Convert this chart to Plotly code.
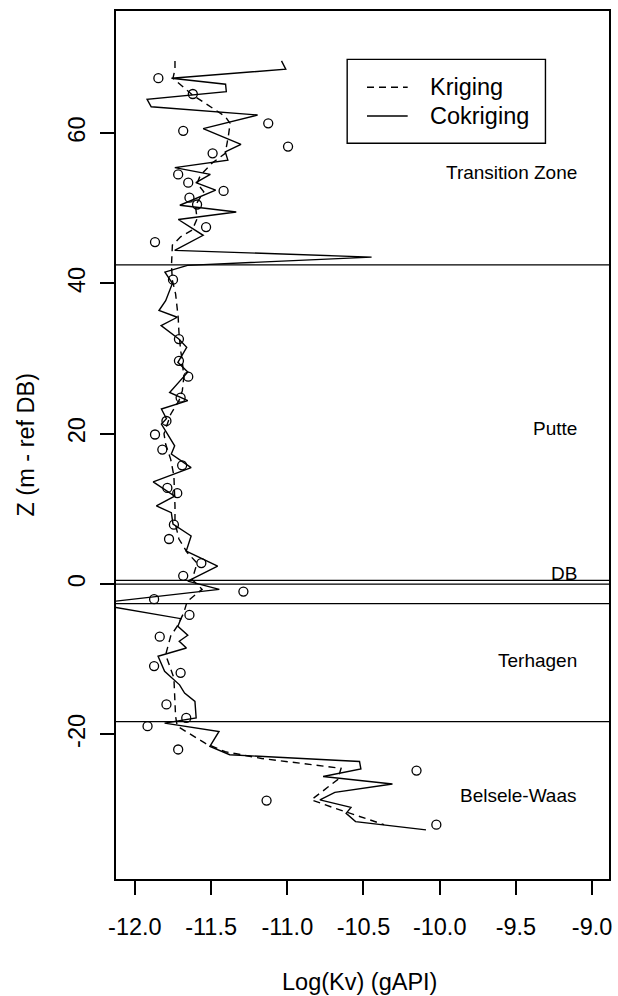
import plotly.graph_objects as go

# ---------------- data ----------------
# Cokriging estimate (solid line): depth Z and Log(Kv)
cok_z = [69.6, 68.5, 67.3, 66.5, 65.5, 64.5, 63.5, 62.4, 60.6, 58.5, 57.5, 56.4,
         55.4, 54.5, 53.4, 52.4, 50.4, 49.5, 48.5, 46.4, 44.4, 43.5, 42.4, 41.5,
         40.0, 37.7, 36.4, 35.5, 34.4, 32.6, 31.5, 29.5, 28.2, 25.5, 24.4, 23.3,
         22.0, 21.3, 18.4, 17.3, 15.5, 13.6, 11.7, 10.4, 9.5, 8.0, 6.4, 4.4,
         2.4, 0.4, -0.7, -2.6, -4.6, -5.6, -6.8, -7.6, -8.5, -9.6, -11.6, -13.4,
         -14.5, -15.6, -17.8, -18.5, -19.6, -21.6, -22.7, -23.6, -24.6, -25.6, -26.6, -27.7,
         -28.7, -29.7, -30.5, -31.6, -32.7]
cok_v = [-11.038, -11.010, -11.760, -11.405, -11.400, -11.920, -11.893, -11.195, -11.552, -11.304, -11.407, -11.390,
         -11.738, -11.505, -11.600, -11.470, -11.705, -11.335, -11.715, -11.552, -11.739, -10.447, -11.655, -11.803,
         -11.754, -11.798, -11.842, -11.722, -11.828, -11.712, -11.660, -11.718, -11.653, -11.772, -11.653, -11.826,
         -11.793, -11.826, -11.739, -11.761, -11.631, -11.880, -11.739, -11.859, -11.761, -11.750, -11.631, -11.663,
         -11.457, -11.653, -11.446, -12.270, -11.698, -11.718, -11.653, -11.709, -11.662, -11.848, -11.805, -11.707,
         -11.674, -11.606, -11.598, -11.805, -11.448, -11.508, -11.378, -10.526, -10.517, -10.765, -10.310, -10.688,
         -10.786, -10.582, -10.614, -10.552, -10.090]

# Kriging estimate (dashed line)
kri_z = [69.6, 68.5, 67.3, 65.1, 62.2, 61.3, 59.7, 57.3, 56.0, 54.4, 53.3, 52.2,
         50.4, 48.6, 47.1, 46.2, 45.1, 43.7, 42.4, 40.4, 38.6, 35.5, 33.5, 31.1,
         29.7, 27.5, 25.7, 24.4, 22.6, 20.0, 18.6, 16.6, 14.4, 10.4, 8.2, 6.0,
         4.2, 2.8, 0.6, -0.7, -2.3, -3.8, -5.6, -6.9, -9.4, -12.5, -17.6, -18.9,
         -21.2, -22.3, -23.2, -24.5, -26.0, -28.7, -29.8, -32.0]
kri_v = [-11.737, -11.737, -11.750, -11.624, -11.407, -11.375, -11.386, -11.407, -11.494, -11.570, -11.592, -11.548,
         -11.603, -11.592, -11.624, -11.700, -11.754, -11.759, -11.760, -11.754, -11.733, -11.716, -11.711, -11.700,
         -11.689, -11.679, -11.689, -11.711, -11.765, -11.809, -11.798, -11.765, -11.744, -11.737, -11.737, -11.711,
         -11.657, -11.592, -11.624, -11.559, -11.657, -11.679, -11.722, -11.765, -11.798, -11.744, -11.733, -11.722,
         -11.537, -11.407, -11.168, -10.647, -10.669, -10.842, -10.690, -10.365]

# Observed data (open circles)
obs_z = [67.3, 65.2, 61.3, 60.3, 58.2, 57.3, 54.5, 53.4, 52.3, 51.4, 50.5, 47.5,
         45.5, 40.5, 32.6, 29.7, 27.6, 24.8, 21.7, 19.9, 17.9, 15.8, 12.8, 12.1,
         7.9, 6.0, 2.8, 1.1, -1.0, -2.0, -4.1, -7.0, -10.9, -11.8, -16.0, -17.8,
         -18.9, -22.0, -24.8, -28.8, -32.0]
obs_v = [-11.846, -11.620, -11.125, -11.683, -10.995, -11.490, -11.716, -11.650, -11.418, -11.642, -11.592, -11.533,
         -11.868, -11.750, -11.711, -11.711, -11.650, -11.700, -11.793, -11.868, -11.820, -11.690, -11.787, -11.722,
         -11.744, -11.776, -11.564, -11.683, -11.288, -11.874, -11.642, -11.837, -11.874, -11.700, -11.793, -11.663,
         -11.917, -11.716, -10.152, -11.136, -10.022]

# Layer boundaries and labels
boundary_z = [42.46, 0.5, 0.0, -2.6, -18.3]
layer_names = ["Transition Zone", "Putte", "DB", "Terhagen", "Belsele-Waas"]
layer_label_z = [54.8, 20.7, 1.35, -10.1, -28.1]
layer_label_v = -9.088

series_names = ["Kriging", "Cokriging"]

x_ticks = [-12.0, -11.5, -11.0, -10.5, -10.0, -9.5, -9.0]
x_ticktext = ["-12.0", "-11.5", "-11.0", "-10.5", "-10.0", "-9.5", "-9.0"]
y_ticks = [-20, 0, 20, 40, 60]
y_ticktext = ["-20", "0", "20", "40", "60"]

x_title = "Log(Kv) (gAPI)"
y_title = "Z (m - ref DB)"

FONT = "Liberation Sans, Arial, sans-serif"
BASE = 23.5
LW = 1.4

fig = go.Figure()
fig.add_trace(go.Scatter(x=kri_v, y=kri_z, mode="lines", name=series_names[0],
                         line=dict(color="black", width=LW, dash="7px,5px"),
                         showlegend=False))
fig.add_trace(go.Scatter(x=cok_v, y=cok_z, mode="lines", name=series_names[1],
                         line=dict(color="black", width=LW),
                         showlegend=False))
fig.add_trace(go.Scatter(x=obs_v, y=obs_z, mode="markers", name="Data",
                         marker=dict(symbol="circle-open", size=9, color="black",
                                     line=dict(width=1.3)),
                         showlegend=False))

shapes = []
for bz in boundary_z:
    shapes.append(dict(type="line", xref="paper", yref="y", x0=0, x1=1, y0=bz, y1=bz,
                       line=dict(color="black", width=1.2)))

# manual legend box (R style)
shapes.append(dict(type="rect", xref="x", yref="y", x0=-10.607, x1=-9.306, y0=58.64, y1=69.81,
                   line=dict(color="black", width=1.4), fillcolor="white", layer="above"))
shapes.append(dict(type="line", xref="x", yref="y", x0=-10.477, x1=-10.210, y0=66.09, y1=66.09,
                   line=dict(color="black", width=LW, dash="7px,5px")))
shapes.append(dict(type="line", xref="x", yref="y", x0=-10.477, x1=-10.210, y0=62.27, y1=62.27,
                   line=dict(color="black", width=LW)))

annotations = []
for nm, yy in zip(series_names, [66.09, 62.27]):
    annotations.append(dict(x=-10.080, y=yy, xref="x", yref="y", text=nm, showarrow=False,
                            xanchor="left", yanchor="middle",
                            font=dict(family=FONT, size=BASE, color="black")))
for nm, yy in zip(layer_names, layer_label_z):
    annotations.append(dict(x=layer_label_v, y=yy, xref="x", yref="y", text=nm, showarrow=False,
                            xanchor="right", yanchor="middle",
                            font=dict(family=FONT, size=19, color="black")))
annotations.append(dict(x=0.4946, y=-0.1187, xref="paper", yref="paper", text=x_title,
                        showarrow=False, xanchor="center", yanchor="middle",
                        font=dict(family=FONT, size=BASE, color="black")))
annotations.append(dict(x=-0.1835, y=0.5, xref="paper", yref="paper", text=y_title,
                        showarrow=False, xanchor="center", yanchor="middle", textangle=-90,
                        font=dict(family=FONT, size=BASE, color="black")))

fig.update_layout(
    width=618, height=996,
    margin=dict(l=116, r=6, t=11, b=117, pad=0),
    paper_bgcolor="white", plot_bgcolor="white",
    shapes=shapes, annotations=annotations,
    font=dict(family=FONT, size=BASE, color="black"),
    xaxis=dict(range=[-12.124, -8.889], tickvals=x_ticks, ticktext=x_ticktext,
               ticks="outside", ticklen=14, tickwidth=1.5, tickcolor="black",
               showline=True, linewidth=1.5, linecolor="black", mirror=True,
               showgrid=False, zeroline=False, ticklabelstandoff=12,
               tickfont=dict(family=FONT, size=BASE, color="black")),
    yaxis=dict(range=[-39.23, 76.24], tickvals=y_ticks, ticktext=y_ticktext,
               ticks="outside", ticklen=14, tickwidth=1.5, tickcolor="black",
               showline=True, linewidth=1.5, linecolor="black", mirror=True,
               showgrid=False, zeroline=False, tickangle=-90, ticklabelstandoff=6,
               tickfont=dict(family=FONT, size=BASE, color="black")),
)

fig.write_html("out.html")
